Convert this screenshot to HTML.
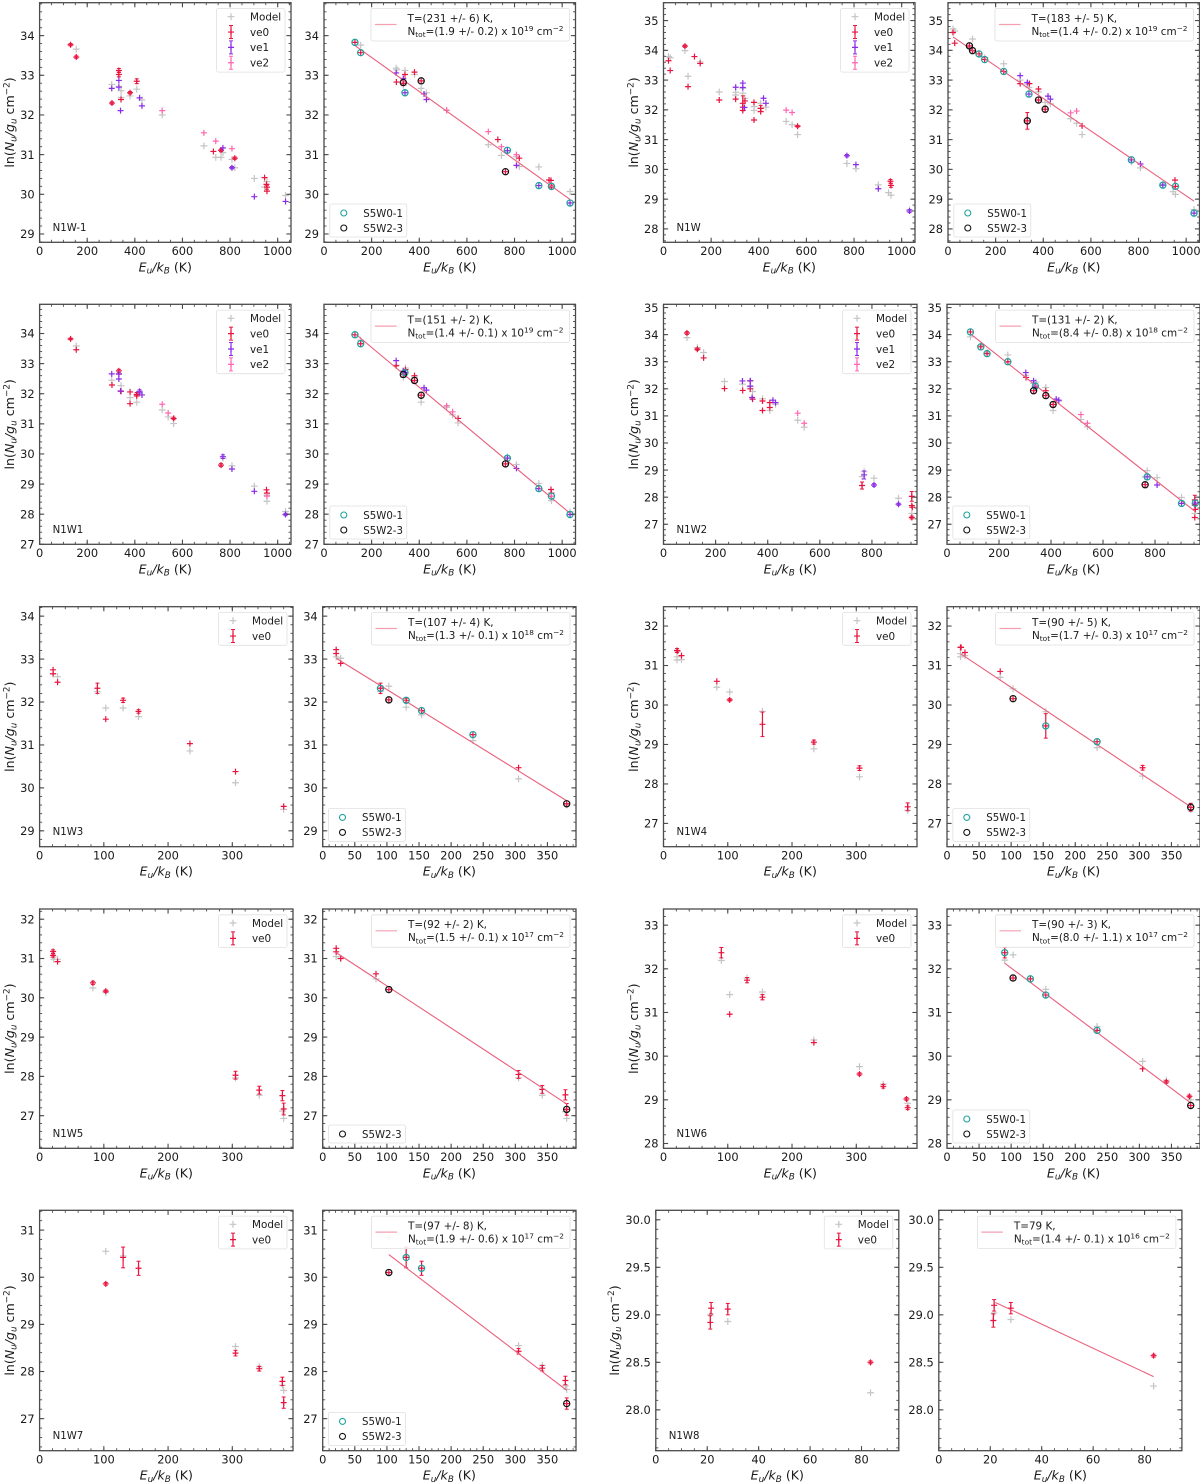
<!DOCTYPE html>
<html lang="en">
<head>
<meta charset="utf-8">
<title>Rotation diagrams</title>
<style>
html,body{margin:0;padding:0;background:#fff;}
svg{display:block;filter:blur(0.3px);}
text{font-family:"DejaVu Sans","Liberation Sans",sans-serif;fill:#1a1a1a;}
</style>
</head>
<body>
<svg id="fig" width="1200" height="1484" viewBox="0 0 1200 1484" xmlns="http://www.w3.org/2000/svg"></svg>
<script>
// ---- data: [Eu/kB, ln(Nu/gu), optional error] ----
const a1Model=[[154,33.66],[303,32.77],[333,32.72],[342,32.61],[342,32.44],[380,32.48],[408,32.65],[430,32.38],[515,32.0],[690,31.22],[740,30.93],[762,30.93],[770,31.05],[808,30.88],[820,30.67],[902,30.4],[945,30.18],[955,30.32],[1033,29.97]];
const a1Ve0=[[130,33.77,.03],[154,33.46,.03],[333,33.12,.05],[333,33.02,.06],[304,32.3,.03],[342,32.39],[380,32.56,.03],[408,32.85,.06],[730,31.08],[762,31.11,.03],[820,30.91,.03],[945,30.42],[953,30.25],[955,30.18,.05],[955,30.08]];
const a1Ve1=[[303,32.67],[333,32.87],[333,32.7],[340,32.11],[420,32.43],[430,32.23],[770,31.17],[808,30.67,.03],[902,29.94],[1033,29.82]];
const a1Ve2=[[515,32.11],[690,31.55],[740,31.34],[808,31.15]];
const b1Model=[[154,33.76],[303,33.18],[306,33.14],[340,33.12],[380,33.02],[333,32.75],[408,32.67],[430,32.56],[515,32.12],[690,31.25],[745,30.98],[770,31.1],[808,30.95],[820,30.7],[902,30.69],[1033,30.07],[955,30.2]];
const b1Ve0=[[130,33.83],[154,33.57],[304,32.83],[340,33.02],[380,33.08],[333,32.8,.06],[408,32.86],[730,31.38],[762,30.57],[820,30.91],[945,30.36],[953,30.35],[955,30.18,.05]];
const b1Ve1=[[303,33.06],[333,32.92],[340,32.56],[420,32.53],[430,32.39],[770,31.1],[808,30.73],[902,30.22],[1033,29.78]];
const b1Ve2=[[515,32.12],[690,31.58],[745,31.2],[808,31.0]];
const b1Teal=[[130,33.83],[154,33.57],[340,32.56],[770,31.11],[902,30.22],[955,30.2],[1033,29.78]];
const b1Black=[[333,32.82],[408,32.86],[762,30.57]];
const b1FitX=[130,1033];
const b1FitY=[33.75,29.87];

const c1Model=[[21,33.79],[28,33.75],[90,33.99],[103,33.13],[154,33.61],[234,32.6],[303,32.59],[303,32.5],[333,32.73],[333,32.56],[342,32.39],[380,32.11],[380,31.98],[408,32.22],[408,32.05],[430,32.09],[515,31.61],[540,31.5],[563,31.17],[770,30.2],[808,30.02],[902,29.48],[945,29.22],[955,29.13],[1033,28.64]];
const c1Ve0=[[21,33.65],[28,33.32],[90,34.14,.04],[103,32.78],[130,33.79],[154,33.56],[234,32.33],[303,32.36],[333,32.22,.25],[333,32.09],[333,31.98],[342,32.3],[380,32.25],[380,31.66],[408,32.05,.1],[408,31.94],[563,31.45,.03],[953,29.6,.06],[955,29.46,.06]];
const c1Ve1=[[303,32.76],[333,32.9],[333,32.75],[340,32.08],[420,32.39],[430,32.22],[770,30.46,.04],[808,30.16],[902,29.35],[1033,28.6,.05]];
const c1Ve2=[[515,31.99],[540,31.91]];
const d1Model=[[21,34.72],[28,34.65],[103,34.38],[90,34.1],[154,33.75],[234,33.55],[303,33.0],[333,32.87],[340,32.75],[380,32.6],[408,32.25],[430,32.2],[515,31.7],[540,31.55],[563,31.17],[770,30.25],[808,30.05],[902,29.5],[945,29.25],[955,29.16],[1033,28.65]];
const d1Ve0=[[21,34.6],[28,34.24],[90,34.15],[103,33.99],[130,33.88],[154,33.69],[234,33.29],[303,32.88],[333,31.63,.28],[342,32.88],[380,32.7],[380,32.33],[408,32.02,.1],[563,31.46],[953,29.64],[955,29.43]];
const d1Ve1=[[303,33.15],[333,32.92],[340,32.53],[420,32.46],[430,32.36],[770,30.32],[808,30.18],[902,29.47],[1033,28.53]];
const d1Ve2=[[515,31.9],[540,31.96]];
const d1Teal=[[130,33.88],[154,33.69],[234,33.29],[340,32.53],[770,30.32],[902,29.47],[955,29.43],[1033,28.53]];
const d1Black=[[90,34.15],[103,33.99],[333,31.63],[380,32.33],[408,32.02]];
const d1FitX=[21,1033];
const d1FitY=[34.45,28.93];

const a2Model=[[154,33.59],[303,32.45],[342,32.27],[380,31.87],[408,31.72],[420,32.02],[515,31.46],[540,31.23],[563,31.01],[770,29.86],[808,29.61],[902,28.93],[955,28.43],[955,28.64],[1033,28.09]];
const a2Ve0=[[130,33.82,.03],[154,33.46],[304,32.29],[333,32.76,.05],[333,32.65],[342,32.08],[380,32.06],[380,31.67],[408,31.98,.06],[408,31.93],[563,31.18,.04],[762,29.63,.05],[953,28.81],[955,28.7]];
const a2Ve1=[[303,32.66],[333,32.66],[333,32.49],[340,32.09],[420,32.08,.05],[430,31.96],[770,29.91,.06],[808,29.5],[902,28.76],[1033,27.99,.04]];
const a2Ve2=[[515,31.65],[540,31.36],[955,28.6]];
const b2Model=[[154,33.78],[303,32.95],[333,32.55],[342,32.85],[380,32.55],[408,31.72],[515,31.55],[540,31.3],[563,31.03],[770,29.9],[808,29.65],[902,29.02],[955,28.45],[955,28.6],[1033,28.08]];
const b2Ve0=[[130,33.96],[154,33.66],[303,32.93],[333,32.64],[342,32.8],[380,32.6],[380,32.44],[408,31.95],[563,31.18],[762,29.67],[953,28.82],[955,28.7]];
const b2Ve1=[[303,33.1],[333,32.75],[340,32.7],[420,32.2],[430,32.12],[770,29.86],[808,29.52],[902,28.85],[1033,27.99]];
const b2Ve2=[[515,31.6],[540,31.4],[955,28.6]];
const b2Teal=[[130,33.96],[154,33.66],[340,32.7],[770,29.86],[902,28.85],[955,28.6],[1033,27.99]];
const b2Black=[[333,32.64],[380,32.44],[408,31.95],[762,29.67]];
const b2FitX=[130,1033];
const b2FitY=[34.0,28.03];

const c2Model=[[90,33.89],[130,33.52],[154,33.34],[234,32.27],[303,32.17],[333,32.08],[342,31.9],[380,31.63],[408,31.2],[430,31.43],[515,30.84],[540,30.58],[762,28.76],[770,28.94],[808,28.7],[902,27.96],[953,27.4]];
const c2Ve0=[[90,34.06,.05],[130,33.46,.04],[154,33.14],[234,32.01],[304,31.94],[333,32.29],[333,32.0],[342,31.62],[380,31.55],[380,31.2],[408,31.49],[408,31.31],[762,28.43,.13],[953,28.03,.18],[953,27.69],[955,27.63],[953,27.25,.05]];
const c2Ve1=[[303,32.29],[333,32.3],[333,32.1],[340,31.68],[420,31.58],[430,31.49],[770,28.82,.15],[808,28.45,.05],[902,27.74,.04]];
const c2Ve2=[[515,31.1],[540,30.73]];
const d2Model=[[90,33.92],[130,33.6],[154,33.35],[234,33.25],[303,32.5],[333,32.2],[342,32.25],[380,32.05],[408,31.2],[430,31.55],[515,30.87],[540,30.6],[762,28.75],[770,28.98],[808,28.72],[902,27.99],[953,27.4]];
const d2Ve0=[[90,34.1],[130,33.55],[154,33.3],[234,33.0],[304,32.42],[333,31.93,.1],[342,32.05],[380,31.93],[380,31.75],[408,31.42,.1],[762,28.46,.1],[953,27.9,.17],[953,27.7],[955,27.55],[953,27.25]];
const d2Ve1=[[303,32.6],[333,32.3],[340,32.1],[420,31.62],[430,31.58],[770,28.75],[808,28.45],[902,27.77],[955,27.78]];
const d2Ve2=[[515,31.05],[540,30.73]];
const d2Teal=[[90,34.1],[130,33.55],[154,33.3],[234,33.0],[340,32.1],[770,28.75],[902,27.77],[955,27.78]];
const d2Black=[[333,31.93],[380,31.75],[408,31.42],[762,28.46]];
const d2FitX=[90,953];
const d2FitY=[34.03,27.48];

const a3Model=[[21,32.65],[28,32.59],[90,32.24],[103,31.86],[130,31.86],[154,31.66],[234,30.86],[305,30.12],[380,29.5]];
const a3Ve0=[[21,32.75],[21,32.66],[28,32.46],[90,32.32,.12],[103,31.6],[130,32.04,.05],[154,31.78,.04],[234,31.03],[305,30.38],[380,29.57]];
const b3Model=[[21,33.05],[28,33.02],[90,32.25],[103,32.37],[130,31.88],[154,31.7],[234,31.1],[305,30.21],[380,29.6]];
const b3Ve0=[[21,33.22],[21,33.13],[28,32.9],[90,32.32,.12],[103,32.05],[130,32.04,.05],[154,31.8],[234,31.24],[305,30.47],[380,29.63]];
const b3Teal=[[90,32.32],[130,32.04],[154,31.8],[234,31.24]];
const b3Black=[[103,32.05],[380,29.63]];
const b3FitX=[21,380];
const b3FitY=[33.02,29.7];

const c3Model=[[21,31.22],[21,31.14],[28,31.15],[83,30.45],[103,30.33],[154,29.84],[234,28.89],[305,28.18],[380,27.33]];
const c3Ve0=[[21,31.38,.05],[22,31.37],[28,31.25],[83,30.6],[103,30.13,.03],[154,29.51,.31],[234,29.06,.05],[305,28.4,.06],[380,27.42,.1]];
const d3Model=[[21,31.3],[21,31.22],[28,31.25],[83,30.7],[103,30.41],[154,29.83],[234,28.92],[305,28.2],[380,27.35]];
const d3Ve0=[[21,31.46],[22,31.46],[28,31.33],[83,30.85],[103,30.16],[154,29.47,.31],[234,29.07],[305,28.41,.06],[380,27.41,.1]];
const d3Teal=[[154,29.47],[234,29.07]];
const d3Black=[[103,30.16],[380,27.41]];
const d3FitX=[21,380];
const d3FitY=[31.3,27.42];

const a4Model=[[21,31.03],[22,30.98],[28,30.98],[83,30.25],[103,30.13],[305,27.96],[342,27.52],[378,27.12],[380,26.93]];
const a4Ve0=[[21,31.18,.04],[21,31.08,.04],[28,30.92],[83,30.38,.04],[103,30.17,.03],[305,28.03,.1],[342,27.65,.1],[378,27.51,.13],[380,27.17,.15]];
const b4Model=[[21,31.05],[28,31.0],[83,30.48],[103,30.2],[305,27.96],[342,27.52],[378,27.1],[380,26.93]];
const b4Ve0=[[21,31.26],[21,31.17],[28,31.0],[83,30.61],[103,30.21],[305,28.05,.1],[342,27.67,.1],[378,27.53,.13],[380,27.16,.15]];
const b4Teal=[];
const b4Black=[[103,30.21],[380,27.16]];
const b4FitX=[21,380];
const b4FitY=[31.15,27.3];

const c4Model=[[90,32.19],[103,31.41],[130,31.79],[154,31.47],[234,30.37],[305,29.76],[342,29.36],[380,28.92]];
const c4Ve0=[[90,32.37,.12],[103,30.96],[130,31.74,.06],[154,31.35,.06],[234,30.31],[305,29.59,.03],[342,29.31,.04],[378,29.02,.03],[380,28.82,.04]];
const d4Model=[[90,32.2],[103,32.32],[154,31.53],[234,30.68],[305,29.88],[342,29.45],[380,29.0]];
const d4Ve0=[[90,32.37,.12],[103,31.79],[130,31.77],[154,31.4],[234,30.59],[305,29.71],[342,29.41,.03],[378,29.08,.03],[380,28.87]];
const d4Teal=[[90,32.37],[130,31.77],[154,31.4],[234,30.59]];
const d4Black=[[103,31.79],[380,28.87]];
const d4FitX=[90,380];
const d4FitY=[32.13,28.93];

const a5Model=[[103,30.55],[130,30.45],[305,28.53],[342,28.1],[378,27.71],[380,27.6]];
const a5Ve0=[[103,29.86,.03],[130,30.42,.22],[154,30.19,.15],[305,28.39,.06],[342,28.06,.05],[378,27.79,.09],[380,27.34,.12]];
const b5Model=[[103,30.85],[130,30.45],[305,28.55],[342,28.13],[378,27.7],[380,27.62]];
const b5Ve0=[[103,30.1],[130,30.42,.22],[154,30.19,.15],[305,28.43,.06],[342,28.07,.06],[378,27.81,.09],[380,27.32,.12]];
const b5Teal=[[130,30.42],[154,30.19]];
const b5Black=[[103,30.1],[380,27.32]];
const b5FitX=[103,380];
const b5FitY=[30.48,27.6];

const c5Model=[[21.2,29.0],[28,28.93],[83.5,28.18]];
const c5Ve0=[[21.5,29.07,.06],[21.2,28.92,.07],[28,29.06,.06],[83.5,28.5,.015]];
const d5Model=[[21.5,29.02],[28,28.95],[83.5,28.25]];
const d5Ve0=[[21.5,29.1,.06],[21.2,28.94,.07],[28,29.07,.06],[83.5,28.57,.015]];
const d5FitX=[22,83.5];
const d5FitY=[29.13,28.35];

// ---- axis limits per row block ----
const xLimWide=[0,1056];
const xLimMid=[0,973];
const xLimLow=[0,394.5];
const xLimTiny=[0,94.5];
const yLim1=[28.79,34.83];
const yLim2=[27.55,35.6];
const yLim3=[27,34.97];
const yLim4=[26.26,35.12];
const yLim5=[28.63,34.22];
const yLim6=[26.41,32.49];
const yLim7=[26.17,32.26];
const yLim8=[27.89,33.37];
const yLim9=[26.32,31.42];
const yLim10=[27.57,30.1];

const rows={r1:[2.7,242.3],r2:[304.3,544.3],r3:[606.7,846.7],r4:[909,1148.3],r5:[1210.3,1450.7]};
const NS='http://www.w3.org/2000/svg';
const fig=document.getElementById('fig');
const COL={model:'#c4c4c4',ve0:'#e8143f',ve1:'#8a2be8',ve2:'#ff66b0',teal:'#1fa3a0',black:'#111111',fit:'#ea5f7c',fitLeg:'#f4a0b0',spine:'#4a4a4a'};

const panels=[
 {name:'n1w-1-data',label:'N1W-1',row:'r1',x:[39.6,291],xl:xLimWide,yl:yLim1,xs:200,ys:1,model:a1Model,ve0:a1Ve0,ve1:a1Ve1,ve2:a1Ve2},
 {name:'n1w-1-fit',row:'r1',x:[324,575.5],xl:xLimWide,yl:yLim1,xs:200,ys:1,model:b1Model,ve0:b1Ve0,ve1:b1Ve1,ve2:b1Ve2,teal:b1Teal,black:b1Black,fx:b1FitX,fy:b1FitY,t:'T=(231 +/- 6) K,',n:'(1.9 +/- 0.2)',e:'19'},
 {name:'n1w-data',label:'N1W',row:'r1',x:[663.5,915],xl:xLimWide,yl:yLim2,xs:200,ys:1,model:c1Model,ve0:c1Ve0,ve1:c1Ve1,ve2:c1Ve2},
 {name:'n1w-fit',row:'r1',x:[948,1199.5],xl:xLimWide,yl:yLim2,xs:200,ys:1,model:d1Model,ve0:d1Ve0,ve1:d1Ve1,ve2:d1Ve2,teal:d1Teal,black:d1Black,fx:d1FitX,fy:d1FitY,t:'T=(183 +/- 5) K,',n:'(1.4 +/- 0.2)',e:'19'},
 {name:'n1w1-data',label:'N1W1',row:'r2',x:[39.6,291],xl:xLimWide,yl:yLim3,xs:200,ys:1,model:a2Model,ve0:a2Ve0,ve1:a2Ve1,ve2:a2Ve2},
 {name:'n1w1-fit',row:'r2',x:[324,575.5],xl:xLimWide,yl:yLim3,xs:200,ys:1,model:b2Model,ve0:b2Ve0,ve1:b2Ve1,ve2:b2Ve2,teal:b2Teal,black:b2Black,fx:b2FitX,fy:b2FitY,t:'T=(151 +/- 2) K,',n:'(1.4 +/- 0.1)',e:'19'},
 {name:'n1w2-data',label:'N1W2',row:'r2',x:[663.5,917],xl:xLimMid,yl:yLim4,xs:200,ys:1,model:c2Model,ve0:c2Ve0,ve1:c2Ve1,ve2:c2Ve2},
 {name:'n1w2-fit',row:'r2',x:[947,1200],xl:xLimMid,yl:yLim4,xs:200,ys:1,model:d2Model,ve0:d2Ve0,ve1:d2Ve1,ve2:d2Ve2,teal:d2Teal,black:d2Black,fx:d2FitX,fy:d2FitY,t:'T=(131 +/- 2) K,',n:'(8.4 +/- 0.8)',e:'18'},
 {name:'n1w3-data',label:'N1W3',row:'r3',x:[39.6,293],xl:xLimLow,yl:yLim5,xs:100,ys:1,model:a3Model,ve0:a3Ve0},
 {name:'n1w3-fit',row:'r3',x:[322.7,576],xl:xLimLow,yl:yLim5,xs:50,ys:1,model:b3Model,ve0:b3Ve0,teal:b3Teal,black:b3Black,fx:b3FitX,fy:b3FitY,t:'T=(107 +/- 4) K,',n:'(1.3 +/- 0.1)',e:'18'},
 {name:'n1w4-data',label:'N1W4',row:'r3',x:[663.5,917],xl:xLimLow,yl:yLim6,xs:100,ys:1,model:c3Model,ve0:c3Ve0},
 {name:'n1w4-fit',row:'r3',x:[947,1200],xl:xLimLow,yl:yLim6,xs:50,ys:1,model:d3Model,ve0:d3Ve0,teal:d3Teal,black:d3Black,fx:d3FitX,fy:d3FitY,t:'T=(90 +/- 5) K,',n:'(1.7 +/- 0.3)',e:'17'},
 {name:'n1w5-data',label:'N1W5',row:'r4',x:[39.6,293],xl:xLimLow,yl:yLim7,xs:100,ys:1,model:a4Model,ve0:a4Ve0},
 {name:'n1w5-fit',row:'r4',x:[322.7,576],xl:xLimLow,yl:yLim7,xs:50,ys:1,model:b4Model,ve0:b4Ve0,teal:b4Teal,black:b4Black,fx:b4FitX,fy:b4FitY,t:'T=(92 +/- 2) K,',n:'(1.5 +/- 0.1)',e:'17'},
 {name:'n1w6-data',label:'N1W6',row:'r4',x:[663.5,917],xl:xLimLow,yl:yLim8,xs:100,ys:1,model:c4Model,ve0:c4Ve0},
 {name:'n1w6-fit',row:'r4',x:[947,1200],xl:xLimLow,yl:yLim8,xs:50,ys:1,model:d4Model,ve0:d4Ve0,teal:d4Teal,black:d4Black,fx:d4FitX,fy:d4FitY,t:'T=(90 +/- 3) K,',n:'(8.0 +/- 1.1)',e:'17'},
 {name:'n1w7-data',label:'N1W7',row:'r5',x:[39.6,293],xl:xLimLow,yl:yLim9,xs:100,ys:1,model:a5Model,ve0:a5Ve0},
 {name:'n1w7-fit',row:'r5',x:[322.7,576],xl:xLimLow,yl:yLim9,xs:50,ys:1,model:b5Model,ve0:b5Ve0,teal:b5Teal,black:b5Black,fx:b5FitX,fy:b5FitY,t:'T=(97 +/- 8) K,',n:'(1.9 +/- 0.6)',e:'17'},
 {name:'n1w8-data',label:'N1W8',row:'r5',x:[655.8,898.8],xl:xLimTiny,yl:yLim10,xs:20,ys:0.5,yTitleGap:37,model:c5Model,ve0:c5Ve0},
 {name:'n1w8-fit',row:'r5',x:[938.8,1181.9],xl:xLimTiny,yl:yLim10,xs:20,ys:0.5,model:d5Model,ve0:d5Ve0,fx:d5FitX,fy:d5FitY,t:'T=79 K,',n:'(1.4 +/- 0.1)',e:'16'}
];

function mk(parent,tag,attrs){
  const el=document.createElementNS(NS,tag);
  for(const k in attrs) el.setAttribute(k,attrs[k]);
  parent.appendChild(el);
  return el;
}
function seg(parent,x1,y1,x2,y2,col,w){
  return mk(parent,'line',{x1:x1,y1:y1,x2:x2,y2:y2,stroke:col,'stroke-width':w});
}
function plus(parent,x,y,col,r,w){
  mk(parent,'path',{d:`M${x-r} ${y}H${x+r}M${x} ${y-r}V${y+r}`,stroke:col,'stroke-width':w,fill:'none'});
}
function minorDiv(step){
  const m=step/Math.pow(10,Math.floor(Math.log10(step)+1e-9));
  return (Math.abs(m-2)<1e-6)?4:5;
}
function ticksBetween(lo,hi,step){
  const out=[];
  for(let v=Math.ceil(lo/step-1e-9)*step;v<=hi+1e-9;v+=step) out.push(+v.toFixed(6));
  return out;
}

panels.forEach(function(p){
  const top=rows[p.row][0], bot=rows[p.row][1], L=p.x[0], R=p.x[1];
  const sx=function(v){return L+(v-p.xl[0])/(p.xl[1]-p.xl[0])*(R-L);};
  const sy=function(v){return bot-(v-p.yl[0])/(p.yl[1]-p.yl[0])*(bot-top);};
  const g=mk(fig,'g',{});
  
  

  // marks
  const mModel=mk(g,'g',{});
  
  
  p.model.forEach(function(d){
    plus(mModel,sx(d[0]),sy(d[1]),COL.model,3.4,1.2);
  });
  [['ve0','ve0-series'],['ve1','ve1-series'],['ve2','ve2-series']].forEach(function(s){
    if(!p[s[0]]) return;
    const sg=mk(g,'g',{});
    
    
    const col=COL[s[0]];
    p[s[0]].forEach(function(d){
      const X=sx(d[0]),Y=sy(d[1]);
      if(d.length>2){
        const y0=sy(d[1]-d[2]),y1=sy(d[1]+d[2]);
        seg(sg,X,y0,X,y1,col,1.2);
        seg(sg,X-2,y0,X+2,y0,col,1);
        seg(sg,X-2,y1,X+2,y1,col,1);
      }
      plus(sg,X,Y,col,3,1.2);
    });
  });
  if(p.fx){
    const fl=mk(g,'line',{x1:sx(p.fx[0]),y1:sy(p.fy[0]),x2:sx(p.fx[1]),y2:sy(p.fy[1]),stroke:COL.fit,'stroke-width':1.1});
    
    
  }
  [['teal','s5w0-1-circles'],['black','s5w2-3-circles']].forEach(function(s){
    if(!p[s[0]]||!p[s[0]].length) return;
    const sg=mk(g,'g',{});
    
    
    p[s[0]].forEach(function(d){
      mk(sg,'circle',{cx:sx(d[0]),cy:sy(d[1]),r:3.1,fill:'none',stroke:COL[s[0]],'stroke-width':1.2});
    });
  });

  // axes frame
  const fr=mk(g,'rect',{x:L,y:top,width:R-L,height:bot-top,fill:'none',stroke:COL.spine,'stroke-width':1.3});
  
  

  // ticks
  const tg=mk(g,'g',{});
  
  
  const xm=p.xs/minorDiv(p.xs);
  ticksBetween(p.xl[0],p.xl[1],xm).forEach(function(v){
    const X=sx(v);
    seg(tg,X,bot,X,bot-2.5,COL.spine,.9);
    seg(tg,X,top,X,top+2.5,COL.spine,.9);
  });
  ticksBetween(p.xl[0],p.xl[1],p.xs).forEach(function(v){
    const X=sx(v);
    seg(tg,X,bot,X,bot-4.6,COL.spine,1.1);
    seg(tg,X,top,X,top+4.6,COL.spine,1.1);
    const tx=mk(tg,'text',{x:X,y:bot+12.6,'text-anchor':'middle','font-size':11.4});
    tx.textContent=String(v);
    
    
  });
  const yg=mk(g,'g',{});
  
  
  const ym=p.ys/5;
  ticksBetween(p.yl[0],p.yl[1],ym).forEach(function(v){
    const Y=sy(v);
    seg(yg,L,Y,L+2.5,Y,COL.spine,.9);
    seg(yg,R,Y,R-2.5,Y,COL.spine,.9);
  });
  ticksBetween(p.yl[0],p.yl[1],p.ys).forEach(function(v){
    const Y=sy(v);
    seg(yg,L,Y,L+4.6,Y,COL.spine,1.1);
    seg(yg,R,Y,R-4.6,Y,COL.spine,1.1);
    const ty=mk(yg,'text',{x:L-5,y:Y+4.2,'text-anchor':'end','font-size':11.4});
    ty.textContent=p.ys<1?v.toFixed(1):String(v);
    
    
  });

  // axis titles
  const xt=mk(g,'text',{x:(L+R)/2,y:bot+29,'text-anchor':'middle','font-size':12.6});
  xt.innerHTML='<tspan font-style="italic">E</tspan><tspan font-style="italic" font-size="8.8" dy="2.4">u</tspan><tspan dy="-2.4" font-style="italic">/k</tspan><tspan font-style="italic" font-size="8.8" dy="2.4">B</tspan><tspan dy="-2.4"> (K)</tspan>';
  
  
  if(p.label){
    const yy=(top+bot)/2, yx=L-(p.yTitleGap||25.5);
    const yt=mk(g,'text',{x:yx,y:yy,'text-anchor':'middle','font-size':12.6,transform:`rotate(-90 ${yx} ${yy})`});
    yt.innerHTML='ln(<tspan font-style="italic">N</tspan><tspan font-style="italic" font-size="8.8" dy="2.4">u</tspan><tspan dy="-2.4" font-style="italic">/g</tspan><tspan font-style="italic" font-size="8.8" dy="2.4">u</tspan><tspan dy="-2.4"> cm</tspan><tspan font-size="8.8" dy="-4.6">−2</tspan><tspan dy="4.6">)</tspan>';
    
    

    // source label
    const sl=mk(g,'text',{x:L+13,y:bot-11.5,'font-size':10.2});
    sl.textContent=p.label;
    
    
  }

  // series legend (data panels)
  if(!p.fx){
    const ents=[['Model','model']];
    if(p.ve0) ents.push(['ve0','ve0']);
    if(p.ve1) ents.push(['ve1','ve1']);
    if(p.ve2) ents.push(['ve2','ve2']);
    const lw=68.5, lx=R-6-lw, ly=top+5.8, lh=ents.length*15.4+2;
    const lg=mk(g,'g',{});
    
    
    mk(lg,'rect',{x:lx,y:ly,width:lw,height:lh,rx:2,fill:'#fff','fill-opacity':.85,stroke:'#e0e0e0','stroke-width':.8});
    ents.forEach(function(en,i){
      const Y=ly+8.2+i*15.35, X=lx+14.5;
      if(en[1]==='model'){
        plus(lg,X,Y,COL.model,3.4,1.2);
      }else{
        const c=COL[en[1]];
        seg(lg,X,Y-6.5,X,Y+6.5,c,1.2);
        seg(lg,X-2,Y-6.5,X+2,Y-6.5,c,1);
        seg(lg,X-2,Y+6.5,X+2,Y+6.5,c,1);
        plus(lg,X,Y,c,3,1.2);
      }
      const lt=mk(lg,'text',{x:lx+33.5,y:Y+3.8,'font-size':10.4});
      lt.textContent=en[0];
      
      
    });
  }else{
    // fit legend
    const lw=198.5, lx=R-6-lw, ly=top+5.8;
    const lg=mk(g,'g',{});
    
    
    mk(lg,'rect',{x:lx,y:ly,width:lw,height:32.5,rx:2,fill:'#fff','fill-opacity':.85,stroke:'#e0e0e0','stroke-width':.8});
    seg(lg,lx+4,ly+16,lx+25.5,ly+16,COL.fitLeg,1.2);
    const t1=mk(lg,'text',{x:lx+36.5,y:ly+13.4,'font-size':10.4});
    t1.textContent=p.t;
    
    
    const t2=mk(lg,'text',{x:lx+36.5,y:ly+26.4,'font-size':10.4});
    t2.innerHTML='N<tspan font-size="7.4" dy="2.2">tot</tspan><tspan dy="-2.2">='+p.n+' x 10</tspan><tspan font-size="7.4" dy="-4">'+p.e+'</tspan><tspan dy="4"> cm</tspan><tspan font-size="7.4" dy="-4">−2</tspan>';
    
    
    // circle legend
    const ents=[];
    if(p.teal&&p.teal.length) ents.push(['S5W0-1','teal']);
    if(p.black&&p.black.length) ents.push(['S5W2-3','black']);
    if(ents.length){
      const ch=ents.length*15+3, cx=L+5.8, cy=bot-5.3-ch;
      const cg=mk(g,'g',{});
      
      
      mk(cg,'rect',{x:cx,y:cy,width:77,height:ch,rx:2,fill:'#fff','fill-opacity':.85,stroke:'#e0e0e0','stroke-width':.8});
      ents.forEach(function(en,i){
        const Y=cy+9+i*15;
        mk(cg,'circle',{cx:cx+14,cy:Y,r:3,fill:'none',stroke:COL[en[1]],'stroke-width':1.1});
        const ct=mk(cg,'text',{x:cx+33.5,y:Y+3.8,'font-size':10.2});
        ct.textContent=en[0];
        
        
      });
    }
  }
});
</script>
</body>
</html>
